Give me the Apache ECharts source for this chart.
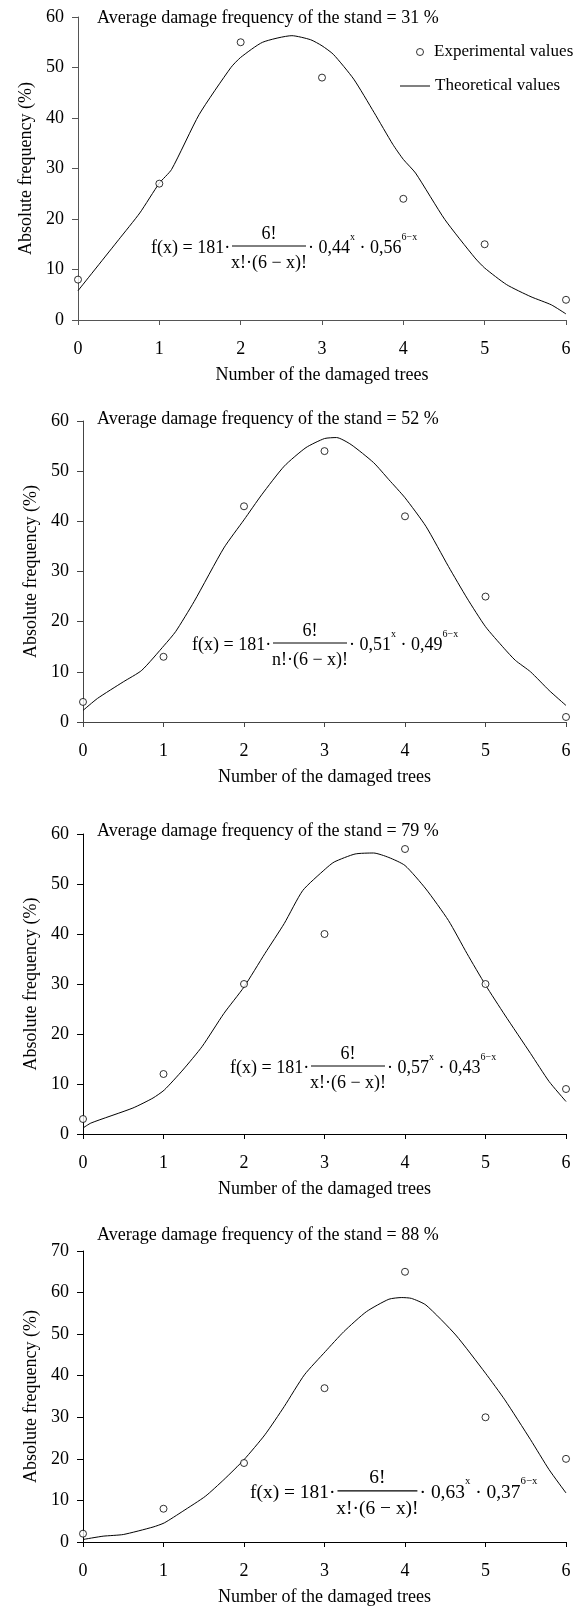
<!DOCTYPE html>
<html>
<head>
<meta charset="utf-8">
<script src="https://cdn.jsdelivr.net/npm/echarts@6/dist/echarts.min.js"></script>
<style>
html, body { margin: 0; padding: 0; background: #fff; }
#chart { width: 586px; height: 1608px; }
</style>
</head>
<body>
<div id="chart"></div>
<script>
// number of damaged trees (x axis)
var trees = [0, 1, 2, 3, 4, 5, 6];

// experimental values, one array per panel
var exp31 = [8, 27, 55, 48, 24, 15, 4];
var exp52 = [4, 13, 43, 54, 41, 25, 1];
var exp79 = [3, 12, 30, 40, 57, 30, 9];
var exp88 = [2, 8, 19, 37, 65, 30, 20];

// theoretical curves as [x, y]
var theo31 = [[0, 5.8], [0.5, 15.9], [0.76, 21.2], [1, 27.1], [1.15, 29.8], [1.49, 40.7], [1.88, 50], [2, 52],
  [2.27, 55], [2.63, 56.3], [2.86, 55.5], [3, 54.3], [3.14, 52.6], [3.39, 47.7], [3.64, 41.1], [3.87, 34.8],
  [4, 31.8], [4.15, 29.1], [4.51, 19.9], [4.88, 12.3], [5, 10.3], [5.27, 7], [5.57, 4.6], [5.82, 3], [6, 1.2]];
var theo52 = [[0, 2.3], [0.18, 4.7], [0.5, 8], [0.73, 10.3], [1.01, 15.3], [1.15, 18], [1.38, 24], [1.75, 34.7],
  [2, 40.3], [2.22, 45.3], [2.5, 51], [2.77, 54.7], [3, 56.5], [3.15, 56.7], [3.33, 55.3], [3.61, 51.7],
  [3.8, 48.3], [4, 44.7], [4.26, 39], [4.54, 31], [4.77, 24.7], [5, 19], [5.23, 14.7], [5.37, 12.3],
  [5.56, 10], [5.79, 6.3], [6, 3.3]];
var theo79 = [[0, 1.2], [0.1, 2.2], [0.62, 5.2], [0.87, 7.2], [1.01, 8.8], [1.24, 12.8], [1.48, 17.5], [1.75, 24.1],
  [2, 29.4], [2.26, 36.1], [2.5, 42.1], [2.73, 48.7], [3.01, 53], [3.12, 54.4], [3.38, 56], [3.61, 56.2],
  [3.8, 55.3], [4, 53.7], [4.26, 49], [4.54, 42.7], [4.77, 36.1], [5, 29.8], [5.24, 23.8], [5.56, 16.1],
  [5.79, 10.5], [6, 6.5]];
var theo88 = [[0, 0.6], [0.25, 1.4], [0.5, 1.8], [0.87, 3.6], [1.01, 4.6], [1.24, 7.4], [1.52, 11], [1.75, 15],
  [2, 19.8], [2.26, 25.8], [2.5, 32.6], [2.75, 40.2], [3.01, 45.8], [3.24, 50.6], [3.52, 55.4], [3.8, 58.4],
  [3.96, 58.8], [4.08, 58.6], [4.26, 57], [4.63, 49.8], [5, 40.6], [5.24, 34.2], [5.56, 24.6], [5.79, 17.4],
  [6, 11.8]];

// y axis tops and titles
var yMax = [60, 60, 60, 70];
var avgDamage = ['31', '52', '79', '88'];

// formula parameters
var pVals = ['0,44', '0,51', '0,57', '0,63'];
var qVals = ['0,56', '0,49', '0,43', '0,37'];
var denoms = ['x!·(6 − x)!', 'n!·(6 − x)!', 'x!·(6 − x)!', 'x!·(6 − x)!'];

var expAll = [exp31, exp52, exp79, exp88];
var theoAll = [theo31, theo52, theo79, theo88];

var FONT = '"Liberation Serif", "Times New Roman", serif';
var FS = 18;

var grids = [
	{ left: 78, top: 17, width: 488, height: 303 },
	{ left: 83, top: 421, width: 483, height: 301 },
	{ left: 83, top: 834, width: 483, height: 300 },
	{ left: 83, top: 1251, width: 483, height: 291 }
];
var axisColor = ['#555', '#444', '#000', '#000'];
var titleCenter = [18, 419, 831, 1235];
var formulaPos = [[151, 248], [192, 645], [230, 1068], [250, 1493]];
var formulaScale = [1, 1, 1, 1.08];

var chart = echarts.init(document.getElementById('chart'), null, { renderer: 'canvas' });

var option = {
	animation: false,
	backgroundColor: '#fff',
	textStyle: { fontFamily: FONT, color: '#000' },
	title: [],
	legend: [ {
		data: [ { name: 'Experimental values', icon: 'circle',
			itemStyle: { color: '#fff', borderColor: '#000', borderWidth: 1 } } ],
		left: 416, top: 42, padding: 0,
		itemWidth: 18, itemHeight: 7,
		textStyle: { fontFamily: FONT, fontSize: 17, color: '#000', lineHeight: 20 },
		selectedMode: false
	}, {
		data: [ { name: 'Theoretical values', icon: 'rect', itemStyle: { color: '#000', borderWidth: 0 } } ],
		left: 400, top: 76, padding: 0,
		itemWidth: 30, itemHeight: 1,
		textStyle: { fontFamily: FONT, fontSize: 17, color: '#000', lineHeight: 20 },
		selectedMode: false
	} ],
	grid: [],
	xAxis: [],
	yAxis: [],
	series: [],
	graphic: []
};

for (var i = 0; i < 4; i++) {
	var g = grids[i];
	option.grid.push({ left: g.left, top: g.top, width: g.width, height: g.height, outerBoundsMode: 'none' });

	option.title.push({
		text: 'Average damage frequency of the stand = ' + avgDamage[i] + ' %',
		left: 97, top: titleCenter[i] - 10, padding: 0,
		textStyle: { fontFamily: FONT, fontSize: FS, fontWeight: 'normal', color: '#000', lineHeight: 20 }
	});

	option.xAxis.push({
		gridIndex: i,
		type: 'value',
		min: 0, max: 6, interval: 1,
		name: 'Number of the damaged trees',
		nameLocation: 'middle',
		nameGap: 46,
		nameTextStyle: { fontFamily: FONT, fontSize: FS, color: '#000' },
		axisLine: { show: true, onZero: false, lineStyle: { color: axisColor[i], width: 1 } },
		axisTick: { show: true, length: 5, inside: false, lineStyle: { color: axisColor[i] } },
		axisLabel: { margin: 20, fontFamily: FONT, fontSize: FS, color: '#000' },
		splitLine: { show: false }
	});

	option.yAxis.push({
		gridIndex: i,
		type: 'value',
		min: 0, max: yMax[i], interval: 10,
		name: 'Absolute frequency (%)',
		nameLocation: 'middle',
		nameGap: 40,
		nameRotate: 90,
		nameTextStyle: { fontFamily: FONT, fontSize: FS, color: '#000' },
		axisLine: { show: true, onZero: false, lineStyle: { color: axisColor[i], width: 1 } },
		axisTick: { show: true, length: 6, inside: false, lineStyle: { color: axisColor[i] } },
		axisLabel: { margin: 14, fontFamily: FONT, fontSize: FS, color: '#000' },
		splitLine: { show: false }
	});

	option.series.push({
		name: 'Theoretical values',
		type: 'line',
		xAxisIndex: i, yAxisIndex: i,
		data: theoAll[i],
		smooth: 0.2,
		showSymbol: false,
		symbol: 'none',
		lineStyle: { color: '#000', width: 1 },
		itemStyle: { color: '#000' },
		z: 2
	});

	option.series.push({
		name: 'Experimental values',
		type: 'scatter',
		xAxisIndex: i, yAxisIndex: i,
		data: trees.map(function (t, k) { return [t, expAll[i][k]]; }),
		symbol: 'circle',
		symbolSize: 7,
		itemStyle: { color: '#fff', borderColor: '#000', borderWidth: 1 },
		z: 3
	});

	// formula annotation
	var fp = formulaPos[i];
	option.graphic.push({
		type: 'group',
		x: fp[0], y: fp[1],
		scaleX: formulaScale[i], scaleY: formulaScale[i],
		silent: true,
		children: [
			{ type: 'text', x: 0, y: 0, style: { text: 'f(x) = 181·', fontFamily: FONT, fontSize: FS, fill: '#000', verticalAlign: 'middle', align: 'left' } },
			{ type: 'line', shape: { x1: 81, y1: -2, x2: 155, y2: -2 }, style: { stroke: '#000', lineWidth: 1 } },
			{ type: 'text', x: 118, y: -14, style: { text: '6!', fontFamily: FONT, fontSize: FS, fill: '#000', verticalAlign: 'middle', align: 'center' } },
			{ type: 'text', x: 118, y: 15, style: { text: denoms[i], fontFamily: FONT, fontSize: FS, fill: '#000', verticalAlign: 'middle', align: 'center' } },
			{ type: 'text', x: 157, y: 0, style: {
				text: '· ' + pVals[i] + '{s|x} · ' + qVals[i] + '{s|6−x}',
				fontFamily: FONT, fontSize: FS, fill: '#000', lineHeight: 32,
				verticalAlign: 'middle', align: 'left',
				rich: { s: { fontFamily: FONT, fontSize: 10, lineHeight: 12, verticalAlign: 'top', fill: '#000' } }
			} }
		]
	});
}

chart.setOption(option);
</script>
</body>
</html>
